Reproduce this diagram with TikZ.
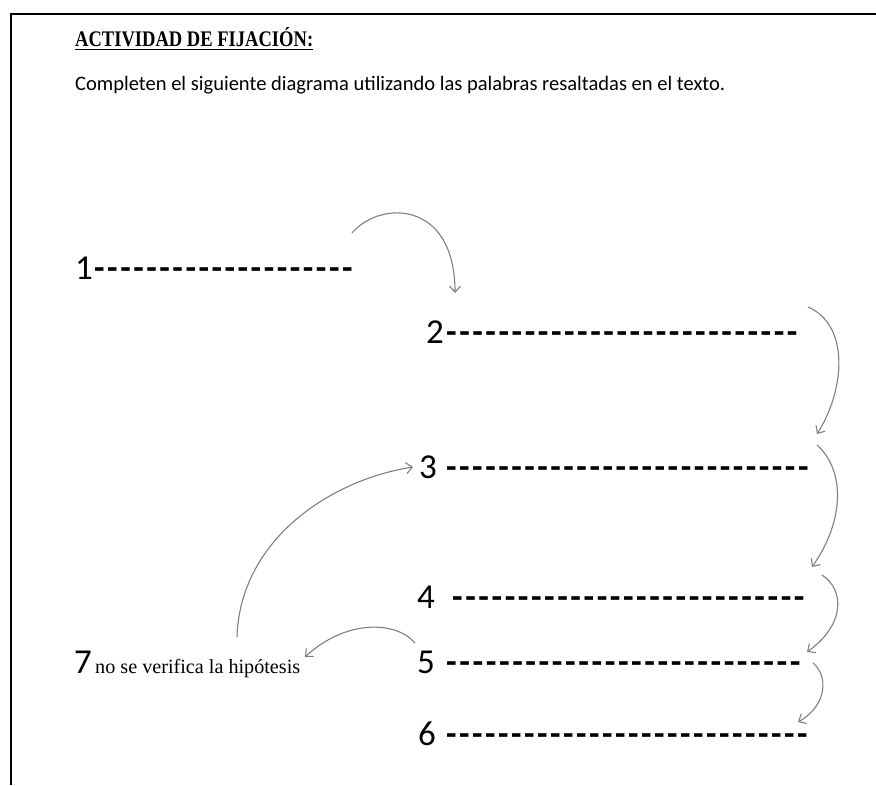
\documentclass[tikz,border=0pt]{standalone}
\usepackage{fontspec}
\setmainfont{Carlito}
\newfontfamily\seriffont{Liberation Serif}
\usetikzlibrary{arrows.meta}
\newcommand\hyrow[1]{\foreach \k in {1,...,#1}{-{}\kern2.6pt}}
\tikzset{
  digit/.style={anchor=base west, inner sep=0pt, font=\fontsize{35}{35}\selectfont},
  dashrow/.style={anchor=base west, inner sep=0pt, font=\fontsize{35}{35}\selectfont\bfseries},
  arr/.style={draw=black!50, line width=1.1pt, -{Straight Barb[length=6pt,width=11pt]}},
  plain/.style={anchor=base west, inner sep=0pt}
}
\begin{document}
\begin{tikzpicture}[x=1pt,y=-1pt]
\useasboundingbox (0,0) rectangle (876,785);
\fill[white] (0,0) rectangle (876,785);
\draw[line width=2pt] (11,785) -- (11,14) -- (876,14);

\node[plain] (title) at (75,46) {\scalebox{1}[1.2]{\resizebox{238pt}{!}{\seriffont\bfseries\underline{ACTIVIDAD DE FIJACIÓN:}}}};
\node[plain] (instr) at (75,90) {\resizebox{650pt}{!}{Completen el siguiente diagrama utilizando las palabras resaltadas en el texto.}};

\node[digit] (n1) at (75,279) {1};
\node[dashrow] (d1) at (94,279) {\resizebox{261pt}{\height}{\hyrow{20}}};
\node[digit] (n2) at (426,343) {2};
\node[dashrow] (d2) at (446,343) {\resizebox{354pt}{\height}{\hyrow{27}}};
\node[digit] (n3) at (419,478) {3};
\node[dashrow] (d3) at (446,478) {\resizebox{365pt}{\height}{\hyrow{28}}};
\node[digit] (n4) at (417,608) {4};
\node[dashrow] (d4) at (452,608) {\resizebox{355pt}{\height}{\hyrow{27}}};
\node[digit] (n5) at (417,673) {5};
\node[dashrow] (d5) at (446,673) {\resizebox{357pt}{\height}{\hyrow{27}}};
\node[digit] (n6) at (418,745) {6};
\node[dashrow] (d6) at (446,745) {\resizebox{364pt}{\height}{\hyrow{28}}};
\node[digit] (n7) at (74,673) {7};
\node[plain] (t7) at (95,673) {\resizebox{205pt}{!}{\seriffont no se verifica la hipótesis}};

\coordinate (a1s) at (352,233);
\coordinate (a1e) at (455,293);
\coordinate (a2s) at (808,307);
\coordinate (a2e) at (817,434);
\coordinate (a3s) at (817,445);
\coordinate (a3e) at (812,567);
\coordinate (a4s) at (822,575);
\coordinate (a4e) at (807,652);
\coordinate (a5s) at (813,663);
\coordinate (a5e) at (798,722);
\coordinate (a7s) at (237,637);
\coordinate (a7e) at (413,467);
\coordinate (a57s) at (415,643);
\coordinate (a57e) at (305,657);

\draw[arr] (a1s) .. controls (380,200) and (455,200) .. (a1e);
\draw[arr] (a2s) .. controls (850,325) and (845,390) .. (a2e);
\draw[arr] (a3s) .. controls (845,470) and (845,520) .. (a3e);
\draw[arr] (a4s) .. controls (845,590) and (845,625) .. (a4e);
\draw[arr] (a5s) .. controls (828,675) and (828,705) .. (a5e);
\draw[arr] (a7s) .. controls (240,540) and (330,480) .. (a7e);
\draw[arr] (a57s) .. controls (395,620) and (345,620) .. (a57e);
\end{tikzpicture}
\end{document}
